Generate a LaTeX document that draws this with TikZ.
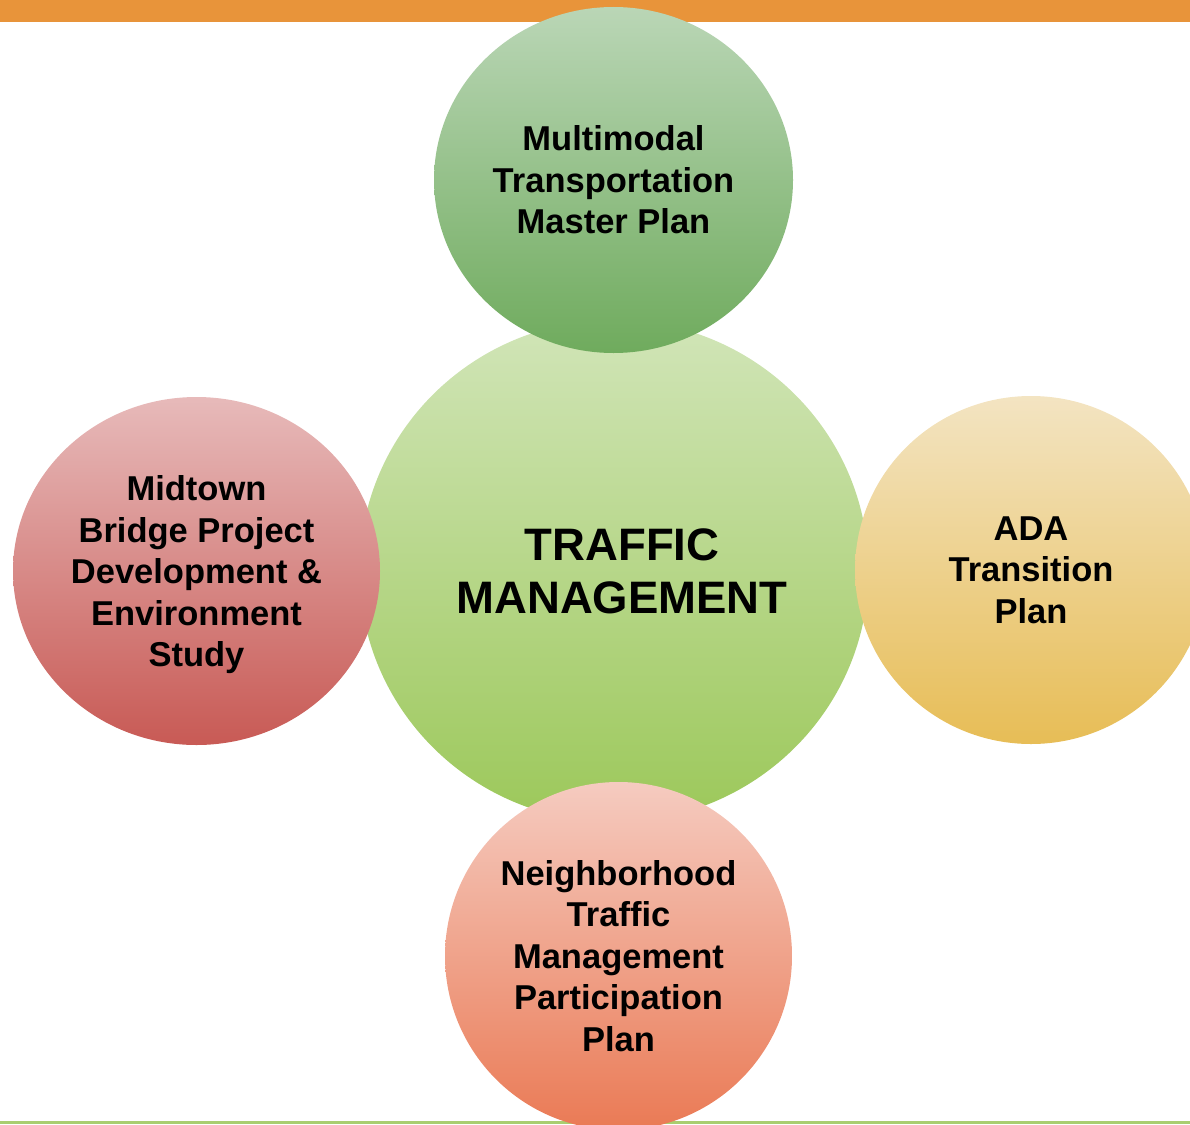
\documentclass[tikz,border=0pt]{standalone}
\usepackage{fontspec}
\setmainfont{Liberation Sans}
\usetikzlibrary{shapes.geometric}
\definecolor{barorange}{HTML}{E8943A}
\definecolor{linegreen}{HTML}{A9CE70}
\definecolor{topA}{HTML}{BAD6B6}
\definecolor{topB}{HTML}{6FAB5D}
\definecolor{midA}{HTML}{D1E5B8}
\definecolor{midB}{HTML}{9CC85A}
\definecolor{leftA}{HTML}{E7BABA}
\definecolor{leftB}{HTML}{C85A55}
\definecolor{rightA}{HTML}{F3E4C2}
\definecolor{rightB}{HTML}{E7BD56}
\definecolor{botA}{HTML}{F5CBC0}
\definecolor{botB}{HTML}{EA7A55}
\begin{document}
\begin{tikzpicture}[x=1pt,y=-1pt,
  bubble/.style={ellipse, inner sep=0pt, draw=none, align=center,
    font=\bfseries\fontsize{34.5}{41.5}\selectfont},
  bigtext/.style={font=\bfseries\fontsize{45.5}{53}\selectfont}]
\useasboundingbox (0,0) rectangle (1190,1124);
\clip (0,0) rectangle (1190,1124);
\fill[barorange] (0,0) rectangle (1190,22);
\fill[linegreen] (0,1120.5) rectangle (1190,1124);
\node[bubble, bigtext, minimum width=509pt, minimum height=502pt,
      top color=midA, bottom color=midB] (center) at (614,571)
      {\hspace*{16pt}TRAFFIC\\\hspace*{16pt}MANAGEMENT};
\node[bubble, minimum width=359pt, minimum height=346pt,
      top color=topA, bottom color=topB] (top) at (613.5,180)
      {Multimodal\\Transportation\\Master Plan};
\node[bubble, minimum width=367pt, minimum height=348pt, text depth=0pt,
      top color=leftA, bottom color=leftB] (left) at (196.5,571)
      {Midtown\\Bridge Project\\Development \&\\Environment\\Study};
\node[bubble, minimum width=352pt, minimum height=348pt,
      top color=rightA, bottom color=rightB] (right) at (1031,570)
      {ADA\\Transition\\Plan};
\node[bubble, minimum width=347pt, minimum height=348pt,
      top color=botA, bottom color=botB] (bottom) at (618.5,956)
      {Neighborhood\\Traffic\\Management\\Participation\\Plan};
\end{tikzpicture}
\end{document}
